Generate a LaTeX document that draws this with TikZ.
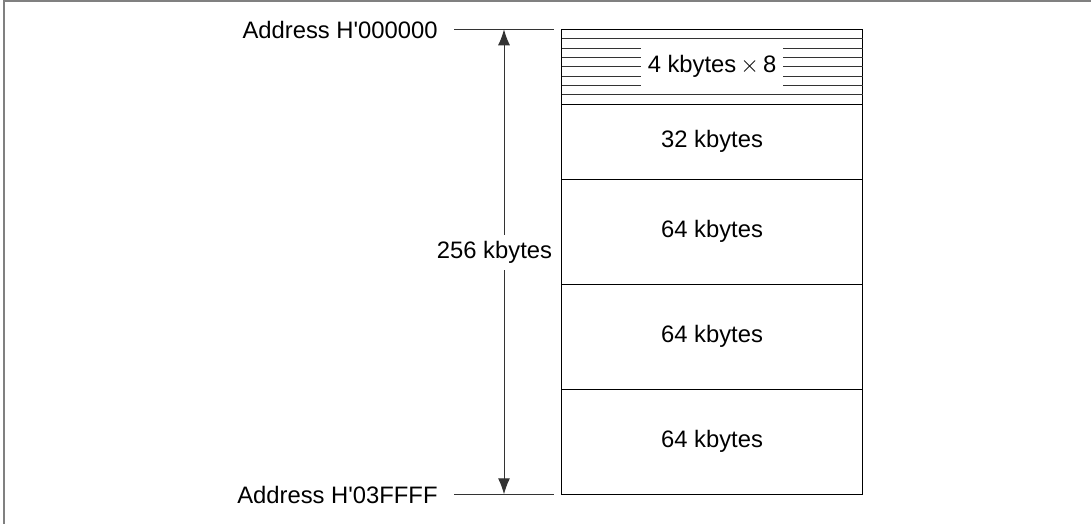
\documentclass[tikz,border=0pt]{standalone}
\usepackage{fontspec}
\setmainfont{Liberation Sans}
\usetikzlibrary{arrows.meta, positioning, calc}

\begin{document}
\begin{tikzpicture}[
    x=0.5pt, y=-0.5pt,
    font=\fontsize{11.9}{14}\selectfont,
    blk/.style={draw, line width=0.6pt, minimum width=150.5pt, inner sep=0pt, outer sep=0pt},
    addr/.style={anchor=base east, inner sep=0pt},
    fina/.style={line width=0.5pt, black!80},
    dbl/.style={{Latex[length=8pt,width=6pt]}-{Latex[length=8pt,width=6pt]}, line width=0.5pt, black!80},
]
\useasboundingbox (0,0) rectangle (1091,524);

% ── Moldura ──────────────────────────────────────
\draw[gray, line width=1pt] (3.5,524) -- (3.5,1.5) -- (1091,1.5);

% ── Blocos de memória ────────────────────────────
\node[blk, minimum height=37.5pt] (k4) at (712,66.8) {};
\node[blk, minimum height=37.5pt, below=0pt of k4]   (k32)  {32 kbytes};
\node[blk, minimum height=52.5pt, below=0pt of k32]  (k64a) {64 kbytes};
\node[blk, minimum height=52.5pt, below=0pt of k64a] (k64b) {64 kbytes};
\node[blk, minimum height=52.5pt, below=0pt of k64b] (k64c) {64 kbytes};

% Blocos pequenos (4 kbytes x 8)
\foreach \i in {1,...,7}
    \draw[fina] ($(k4.north west)!\i/8!(k4.south west)$) -- ($(k4.north east)!\i/8!(k4.south east)$);
\node[fill=white, inner xsep=3.5pt, inner ysep=0pt, minimum height=19pt] (k4lbl) at (k4) {4 kbytes\,$\times$\,8};

% ── Endereços ────────────────────────────────────
\node[addr] (a0) at (438,38.5)  {Address H\textquotesingle 000000};
\node[addr] (a1) at (438,503.3) {Address H\textquotesingle 03FFFF};
\draw[fina] ([xshift=8pt]a0.east |- k4.north)   -- ([xshift=-4pt]k4.north west);
\draw[fina] ([xshift=8pt]a1.east |- k64c.south) -- ([xshift=-4pt]k64c.south west);

% Cota de tamanho
\coordinate (dimx) at (504,0);
\draw[dbl] (dimx |- k64c.south) -- (dimx |- k4.north);
\node[fill=white, inner sep=1pt, minimum height=17.5pt] (sz) at (494.5,252) {256 kbytes};

\end{tikzpicture}
\end{document}
